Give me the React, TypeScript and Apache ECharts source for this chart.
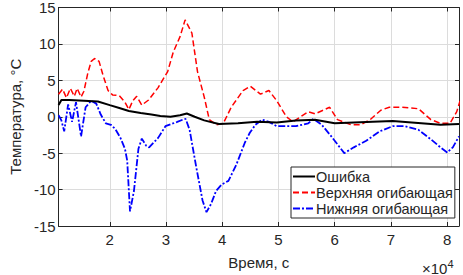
import React, { useEffect, useRef } from "react";
import * as echarts from "echarts";

const xTicks = [20000, 30000, 40000, 50000, 60000, 70000, 80000];
const yTicks = [-15, -10, -5, 0, 5, 10, 15];

const errT = [10900, 11400, 12800, 15400, 17900, 20000, 21700, 23400, 25500, 27400, 29000, 30800, 32500, 33700, 35100, 36800, 39400, 42800, 46200, 49700, 53100, 56500, 60000, 63400, 66800, 70300, 73700, 78800, 82100];
const errV = [1.6, 2.3, 2.3, 2.2, 2.1, 1.6, 1.2, 0.8, 0.5, 0.3, 0.1, 0.0, 0.2, 0.45, 0.0, -0.5, -1.0, -0.9, -0.7, -0.8, -0.5, -0.4, -0.9, -0.8, -0.7, -0.6, -0.8, -1.1, -1.0];

const upT = [10900, 11600, 12300, 13000, 13700, 14200, 14900, 15400, 16100, 16700, 17300, 18100, 18800, 19700, 20500, 21700, 22700, 23400, 24100, 24800, 25700, 26900, 28600, 30300, 31300, 32500, 33400, 34600, 35600, 36800, 37700, 39000, 40200, 41600, 43700, 45000, 46800, 48300, 49700, 51400, 52600, 54300, 55300, 56500, 59100, 60500, 62900, 64600, 66300, 68200, 69700, 72000, 74900, 77100, 78800, 80500, 81700, 82300];
const upV = [3.1, 3.8, 2.6, 3.9, 2.8, 3.9, 2.7, 3.5, 6.0, 7.6, 8.0, 7.6, 5.7, 3.6, 3.0, 2.9, 2.0, 1.0, 2.2, 2.8, 1.6, 2.3, 4.0, 6.2, 8.9, 11.0, 13.3, 11.5, 6.2, 2.7, -0.4, -1.1, -0.9, 1.3, 3.6, 4.2, 3.1, 3.6, 2.2, 0.0, -0.7, 0.2, 0.7, 0.4, 1.3, -0.4, -1.1, -1.1, -0.4, 0.9, 1.3, 1.3, 1.1, -0.4, -0.9, -0.9, 0.7, 2.2];

const loT = [10900, 11400, 11900, 12600, 13300, 14000, 14900, 15700, 16700, 17600, 18400, 19300, 20200, 21000, 21900, 22700, 23100, 23600, 24300, 25100, 25700, 26500, 27000, 28600, 29900, 32000, 33000, 33500, 34200, 35400, 36500, 37200, 38000, 38900, 39900, 41100, 42500, 44000, 44900, 45900, 47100, 48300, 49700, 53100, 55300, 56200, 57700, 59400, 61700, 63400, 65600, 68000, 70300, 72500, 74900, 77100, 78800, 80000, 81000, 82100];
const loV = [0.2, -0.5, -2.0, 1.7, -0.7, 2.0, -2.7, 1.3, 2.2, 1.8, 0.3, -0.9, -1.1, -1.7, -2.9, -4.4, -6.0, -13.0, -10.2, -4.4, -3.0, -4.0, -4.2, -2.9, -1.3, -0.7, -0.4, -0.3, -1.8, -7.0, -11.5, -13.1, -12.0, -10.2, -9.3, -8.8, -6.6, -3.6, -2.2, -1.1, -0.4, -0.7, -1.3, -1.3, -0.9, -0.3, -1.1, -2.7, -5.0, -4.2, -3.3, -2.0, -1.3, -1.3, -1.8, -3.1, -4.2, -4.9, -4.2, -2.7];

const seriesNames = ["Ошибка", "Верхняя огибающая", "Нижняя огибающая"];

const zip = (t: number[], v: number[]) => t.map((x, i) => [x, v[i]]);

const FONT = "Liberation Sans, Arial, sans-serif";
const AXIS_COLOR = "#262626";
const FS = 15;

export default function App() {
  const ref = useRef<HTMLDivElement>(null);
  useEffect(() => {
    if (!ref.current) return;
    const chart = echarts.init(ref.current, undefined, { renderer: "svg" });
    const baseX = {
      type: "value" as const,
      min: 10900,
      max: 82100,
      axisLine: { show: true, onZero: false, lineStyle: { color: AXIS_COLOR, width: 1 } },
      axisTick: { show: true, inside: true, length: 4, customValues: xTicks, lineStyle: { color: AXIS_COLOR } },
    };
    const baseY = {
      type: "value" as const,
      min: -15,
      max: 15,
      interval: 5,
      axisLine: { show: true, onZero: false, lineStyle: { color: AXIS_COLOR, width: 1 } },
      axisTick: { show: true, inside: true, length: 4, lineStyle: { color: AXIS_COLOR } },
    };
    chart.setOption({
      animation: false,
      backgroundColor: "#ffffff",
      grid: { left: 44, right: 4, top: 7, bottom: 42, containLabel: false },
      xAxis: [
        {
          ...baseX,
          position: "bottom",
          name: "Время, с",
          nameLocation: "middle",
          nameGap: 29,
          nameTextStyle: { fontFamily: FONT, fontSize: FS, color: AXIS_COLOR },
          axisLabel: {
            customValues: xTicks,
            formatter: (v: number) => String(Math.round(v / 10000)),
            fontFamily: FONT,
            fontSize: FS,
            color: AXIS_COLOR,
            margin: 6,
          },
          splitLine: { show: true, lineStyle: { color: "#dcdcdc", width: 1 } },
        },
        {
          ...baseX,
          position: "top",
          axisLabel: { show: false },
          splitLine: { show: false },
        },
      ],
      yAxis: [
        {
          ...baseY,
          position: "left",
          name: "Температура, °C",
          nameLocation: "middle",
          nameGap: 33,
          nameTextStyle: { fontFamily: FONT, fontSize: FS, color: AXIS_COLOR },
          axisLabel: { fontFamily: FONT, fontSize: FS, color: AXIS_COLOR, margin: 3 },
          splitLine: { show: true, lineStyle: { color: "#dcdcdc", width: 1 } },
        },
        {
          ...baseY,
          position: "right",
          axisLabel: { show: false },
          splitLine: { show: false },
        },
      ],
      legend: {
        orient: "vertical",
        left: 291,
        top: 167,
        backgroundColor: "#ffffff",
        borderColor: AXIS_COLOR,
        borderWidth: 1,
        borderRadius: 0,
        padding: [2, 2, 2, 1],
        itemGap: 1,
        itemWidth: 22,
        itemHeight: 16,
        itemStyle: { opacity: 0 },
        textStyle: { fontFamily: FONT, fontSize: 14.5, color: AXIS_COLOR, padding: [0, 0, 0, -4] },
        data: seriesNames,
      },
      graphic: [
        {
          type: "text",
          left: 422,
          top: 258,
          style: {
            text: "×10{s|4}",
            fontFamily: FONT,
            fontSize: FS,
            fill: AXIS_COLOR,
            rich: { s: { fontSize: 11, verticalAlign: "top", padding: [0, 0, 9, 0], fontFamily: FONT, fill: AXIS_COLOR } },
          },
        },
      ],
      series: [
        {
          name: seriesNames[0],
          type: "line",
          data: zip(errT, errV),
          showSymbol: false,
          symbol: "none",
          lineStyle: { color: "#000000", width: 2 },
          itemStyle: { color: "#000000" },
          z: 3,
        },
        {
          name: seriesNames[1],
          type: "line",
          data: zip(upT, upV),
          showSymbol: false,
          symbol: "none",
          lineStyle: { color: "#ff0000", width: 1.5, type: [6, 3] },
          itemStyle: { color: "#ff0000" },
          z: 2,
        },
        {
          name: seriesNames[2],
          type: "line",
          data: zip(loT, loV),
          showSymbol: false,
          symbol: "none",
          lineStyle: { color: "#0000ff", width: 1.8, type: [7, 2, 2, 2] },
          itemStyle: { color: "#0000ff" },
          z: 2,
        },
      ],
    });
    return () => chart.dispose();
  }, []);
  return (
    <div
      ref={ref}
      style={{ position: "fixed", left: 0, top: 0, width: 463, height: 275, background: "#fff" }}
    />
  );
}
